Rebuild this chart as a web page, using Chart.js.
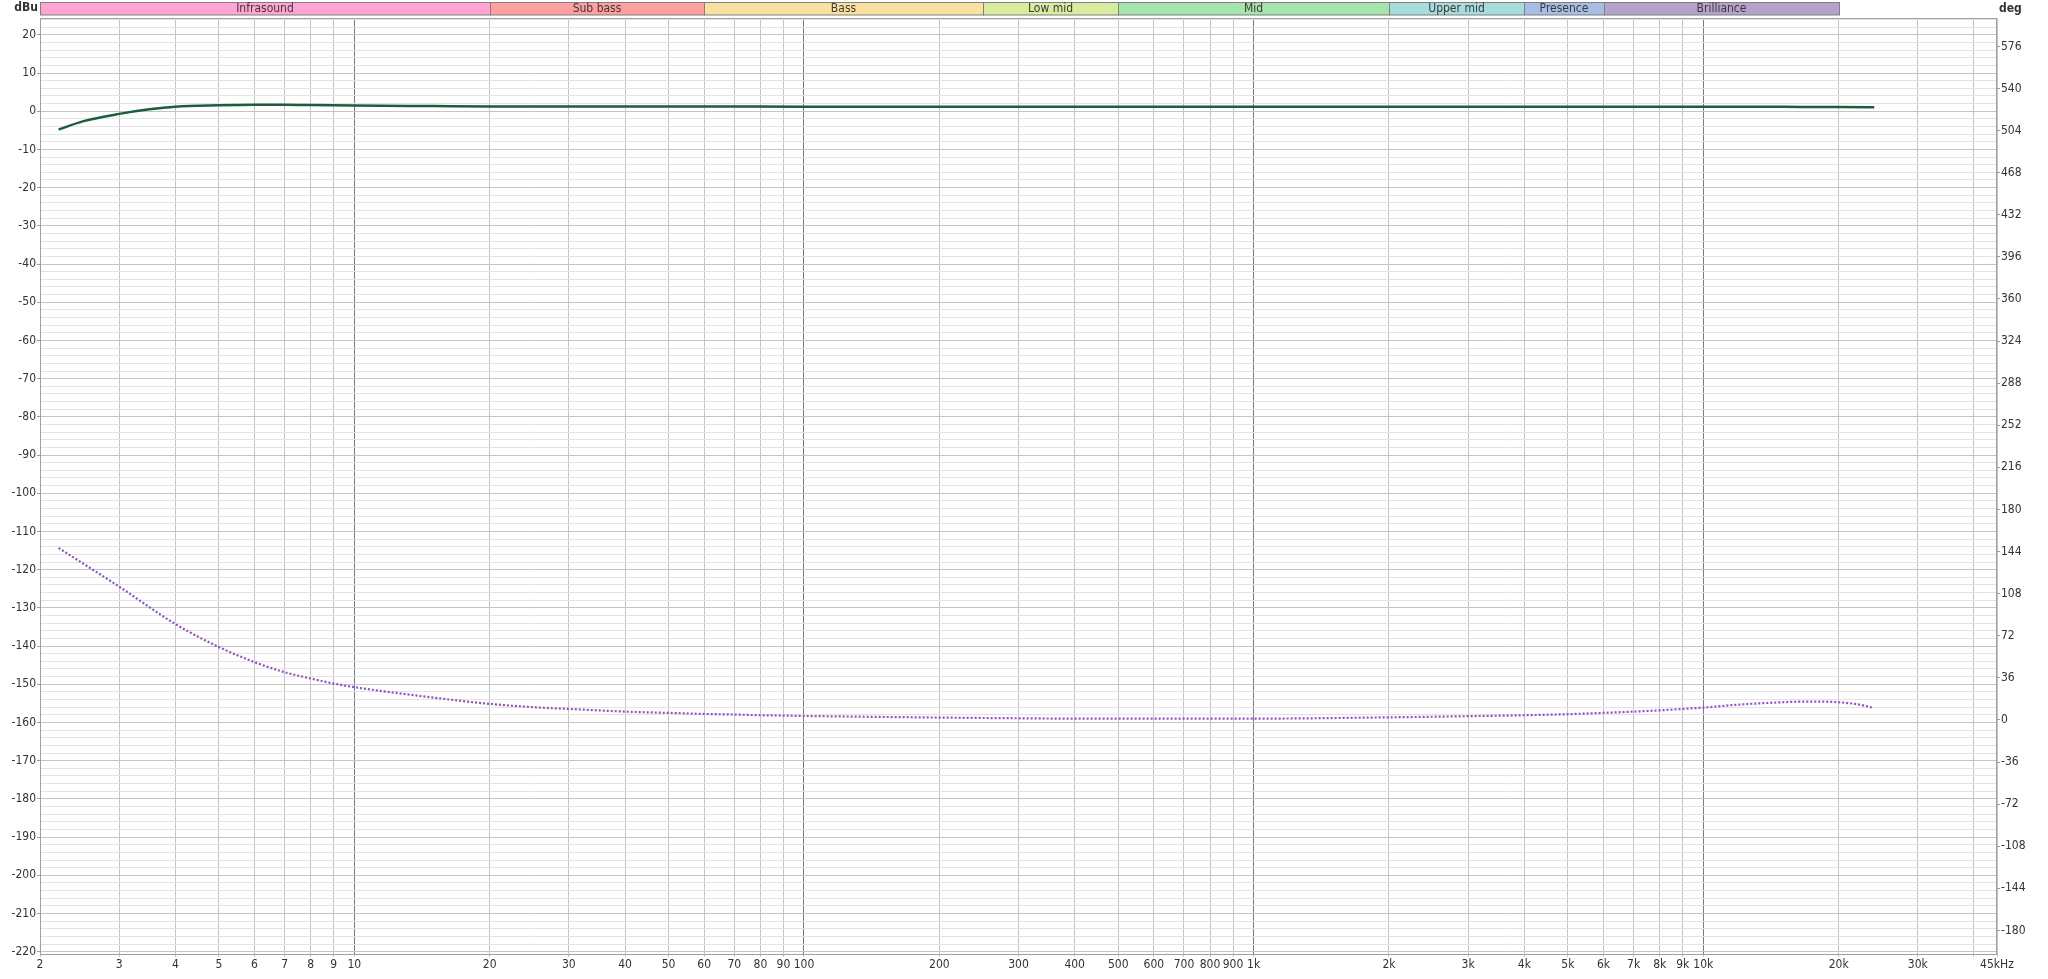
<!DOCTYPE html>
<html><head><meta charset="utf-8">
<script src="https://cdn.jsdelivr.net/npm/chart.js@4.4.1/dist/chart.umd.min.js"></script>
<style>html,body{margin:0;padding:0;background:#fff;overflow:hidden}#wrap{position:relative;width:2048px;height:979px}</style>
</head><body><div id="wrap"><canvas id="c" width="2048" height="979"></canvas></div>
<script>
// Magnitude (dBu)
const magFreq = [2.2, 2.5, 3, 3.5, 4, 5, 6, 7, 8, 10, 15, 20, 50, 100, 1000, 10000, 15000, 20000, 24000];
const magDbu  = [-4.8, -2.6, -0.7, 0.5, 1.2, 1.57, 1.72, 1.68, 1.6, 1.49, 1.35, 1.25, 1.22, 1.2, 1.2, 1.2, 1.15, 1.1, 1.03];

// Phase (deg)
const phaseFreq = [2.2, 2.5, 3, 4, 5, 6, 7, 8, 9, 10, 15, 20, 26, 30, 40, 50, 60, 70, 80, 90, 100, 200, 300, 400, 500, 1000, 2000, 3000, 4000, 5000, 6000, 7000, 8000, 9000, 10000, 12000, 15000, 17000, 20000, 22000, 23800];
const phaseDeg  = [147, 133.5, 114, 82, 62.3, 49.4, 40.8, 35.4, 31.1, 28, 19.1, 13.7, 10.5, 9.4, 7.1, 6, 5.1, 4.6, 4.0, 3.7, 3.4, 2.0, 1.4, 1.1, 1.1, 1.1, 2.2, 3.2, 4.0, 4.9, 6, 7.1, 8.2, 9.4, 10.5, 13.1, 15.1, 15.7, 15.1, 13.4, 10.5];

// Axis ticks
const xTickValues = [2,3,4,5,6,7,8,9,10,20,30,40,50,60,70,80,90,100,200,300,400,500,600,700,800,900,1000,2000,3000,4000,5000,6000,7000,8000,9000,10000,20000,30000,40000,45000];
const xTickLabels = ['2','3','4','5','6','7','8','9','10','20','30','40','50','60','70','80','90','100','200','300','400','500','600','700','800','900','1k','2k','3k','4k','5k','6k','7k','8k','9k','10k','20k','30k','','45kHz'];
const decadeLines = [10, 100, 1000, 10000];
const yLeftTicks = [-220,-218,-216,-214,-212,-210,-208,-206,-204,-202,-200,-198,-196,-194,-192,-190,-188,-186,-184,-182,-180,-178,-176,-174,-172,-170,-168,-166,-164,-162,-160,-158,-156,-154,-152,-150,-148,-146,-144,-142,-140,-138,-136,-134,-132,-130,-128,-126,-124,-122,-120,-118,-116,-114,-112,-110,-108,-106,-104,-102,-100,-98,-96,-94,-92,-90,-88,-86,-84,-82,-80,-78,-76,-74,-72,-70,-68,-66,-64,-62,-60,-58,-56,-54,-52,-50,-48,-46,-44,-42,-40,-38,-36,-34,-32,-30,-28,-26,-24,-22,-20,-18,-16,-14,-12,-10,-8,-6,-4,-2,0,2,4,6,8,10,12,14,16,18,20,22,24];
const yRightTicks = [-180,-144,-108,-72,-36,0,36,72,108,144,180,216,252,288,324,360,396,432,468,504,540,576];

// Frequency bands
const bandNames  = ['Infrasound','Sub bass','Bass','Low mid','Mid','Upper mid','Presence','Brilliance'];
const bandStart  = [2, 20, 60, 250, 500, 2000, 4000, 6000];
const bandEnd    = [20, 60, 250, 500, 2000, 4000, 6000, 20000];
const bandColors = ['#ffa5d3','#ff9f9f','#f9e1a0','#d8eca0','#a5e4aa','#a5dcdc','#a6bee3','#b3a3cb'];

const FONT = "'Liberation Sans Narrow', 'DejaVu Sans Condensed', 'Noto Sans', sans-serif";

const bandPlugin = {
  id: 'bands',
  beforeDatasetsDraw(chart) {
    const {ctx, chartArea: a} = chart;
    ctx.save();
    ctx.strokeStyle = '#a0a0a0';
    ctx.lineWidth = 1;
    ctx.strokeRect(Math.round(a.left) + 0.5, Math.round(a.top) + 0.5, Math.round(a.right - a.left) - 1, Math.round(a.bottom - a.top));
    ctx.restore();
  },
  afterDraw(chart) {
    const {ctx, chartArea: a} = chart;
    const xs = chart.scales.x;
    ctx.save();
    for (let i = 0; i < bandNames.length; i++) {
      const x0 = Math.round(xs.getPixelForValue(bandStart[i]));
      const x1 = Math.round(xs.getPixelForValue(bandEnd[i]));
      ctx.fillStyle = bandColors[i];
      ctx.fillRect(x0, 2.5, x1 - x0, 12.5);
      ctx.strokeStyle = '#808080';
      ctx.lineWidth = 1;
      ctx.strokeRect(x0 + 0.5, 2.5, x1 - x0, 12.5);
      ctx.fillStyle = '#3f3838';
      ctx.font = '12px ' + FONT;
      ctx.textAlign = 'center';
      ctx.textBaseline = 'middle';
      ctx.fillText(bandNames[i], (x0 + x1) / 2, 9);
    }
    ctx.font = 'bold 12px ' + FONT;
    ctx.fillStyle = '#333';
    ctx.textBaseline = 'middle';
    ctx.textAlign = 'right';
    ctx.fillText('dBu', a.left - 2, 8);
    ctx.textAlign = 'left';
    ctx.fillText('deg', a.right + 2, 9);
    ctx.restore();
  }
};

new Chart(document.getElementById('c'), {
  type: 'line',
  data: {
    datasets: [
      {
        label: 'Magnitude',
        data: magFreq.map((f, i) => ({x: f, y: magDbu[i]})),
        borderColor: '#1b5e3c',
        borderWidth: 2.5,
        pointRadius: 0,
        cubicInterpolationMode: 'monotone',
        yAxisID: 'y'
      },
      {
        label: 'Phase',
        data: phaseFreq.map((f, i) => ({x: f, y: phaseDeg[i]})),
        borderColor: '#8e4ecf',
        borderWidth: 2.2,
        borderDash: [2, 2],
        pointRadius: 0,
        cubicInterpolationMode: 'monotone',
        yAxisID: 'y2'
      }
    ]
  },
  options: {
    responsive: false,
    animation: false,
    devicePixelRatio: 1,
    layout: {padding: {top: 18, left: 0, right: 0, bottom: 0}},
    plugins: {legend: {display: false}, tooltip: {enabled: false}},
    scales: {
      x: {
        type: 'logarithmic',
        min: 2, max: 45000,
        afterBuildTicks: s => { s.ticks = xTickValues.map(v => ({value: v})); },
        afterFit: s => { s.height = 25; },
        ticks: {
          autoSkip: false, maxRotation: 0, minRotation: 0,
          padding: 1,
          color: '#333',
          font: {family: FONT, size: 12},
          callback: (v, i) => xTickLabels[i]
        },
        grid: {
          color: c => decadeLines.includes(c.tick && c.tick.value) ? '#7a7a7a' : '#c4c4c4',
          tickLength: 3,
          tickColor: '#c4c4c4'
        },
        border: {display: false}
      },
      y: {
        position: 'left',
        min: -220.6, max: 24.4,
        afterBuildTicks: s => { s.ticks = yLeftTicks.map(v => ({value: v})); },
        afterFit: s => { s.width = 40; },
        ticks: {
          autoSkip: false,
          padding: 1,
          color: '#333',
          font: {family: FONT, size: 12},
          callback: v => (v % 10 === 0 ? String(v) : '')
        },
        grid: {
          color: c => (c.tick && c.tick.value % 10 === 0) ? '#c4c4c4' : '#e3e3e3',
          tickLength: 3,
          tickColor: c => (c.tick && c.tick.value % 10 === 0) ? '#a0a0a0' : 'rgba(0,0,0,0)'
        },
        border: {display: false}
      },
      y2: {
        position: 'right',
        min: -200.2, max: 600.3,
        afterBuildTicks: s => { s.ticks = yRightTicks.map(v => ({value: v})); },
        afterFit: s => { s.width = 51; },
        ticks: {
          autoSkip: false,
          padding: 1,
          color: '#333',
          font: {family: FONT, size: 12},
          callback: v => String(v)
        },
        grid: {drawOnChartArea: false, tickLength: 3, tickColor: '#8aa0c0'},
        border: {display: false}
      }
    }
  },
  plugins: [bandPlugin]
});
</script>
</body></html>
